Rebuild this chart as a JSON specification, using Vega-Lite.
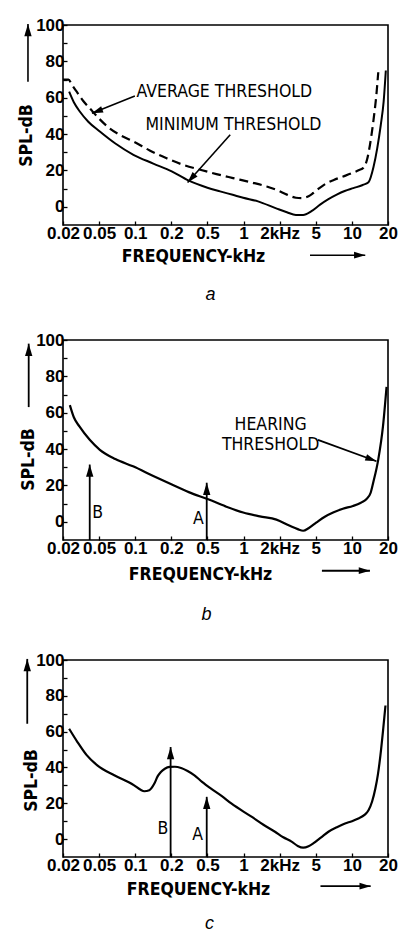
{
  "$schema": "https://vega.github.io/schema/vega-lite/v6.json",
  "background": "white",
  "padding": {"left": 16, "top": 15, "right": 2, "bottom": 2},
  "spacing": 25,
  "config": {
    "view": {"stroke": "black", "strokeWidth": 1.6},
    "axis": {
      "grid": false, "domain": false,
      "tickColor": "black", "tickSize": -4, "tickWidth": 1.3,
      "labelFont": "Liberation Sans", "labelFontWeight": "bold", "labelFontSize": 17, "labelColor": "black",
      "titleFont": "DejaVu Sans Condensed", "titleFontWeight": "bold", "titleFontSize": 17.5, "titleColor": "black"
    },
    "title": {"orient": "bottom", "font": "Liberation Sans", "fontStyle": "italic", "fontWeight": "normal", "fontSize": 18, "anchor": "middle", "color": "black", "offset": 20}
  },
  "datasets": {
    "curves": [
      {"panel": "a", "series": "average", "fpos": 0.0, "spl": 70},
      {"panel": "a", "series": "average", "fpos": 0.15, "spl": 70},
      {"panel": "a", "series": "average", "fpos": 0.25, "spl": 67},
      {"panel": "a", "series": "average", "fpos": 0.38, "spl": 63.3},
      {"panel": "a", "series": "average", "fpos": 0.55, "spl": 58.5},
      {"panel": "a", "series": "average", "fpos": 0.75, "spl": 54},
      {"panel": "a", "series": "average", "fpos": 1.0, "spl": 48.5},
      {"panel": "a", "series": "average", "fpos": 1.3, "spl": 43},
      {"panel": "a", "series": "average", "fpos": 1.6, "spl": 39.3},
      {"panel": "a", "series": "average", "fpos": 1.95, "spl": 35.9},
      {"panel": "a", "series": "average", "fpos": 2.4, "spl": 31},
      {"panel": "a", "series": "average", "fpos": 2.87, "spl": 26.7},
      {"panel": "a", "series": "average", "fpos": 3.3, "spl": 23.3},
      {"panel": "a", "series": "average", "fpos": 3.8, "spl": 20.4},
      {"panel": "a", "series": "average", "fpos": 4.25, "spl": 18},
      {"panel": "a", "series": "average", "fpos": 4.71, "spl": 15.8},
      {"panel": "a", "series": "average", "fpos": 5.2, "spl": 13.5},
      {"panel": "a", "series": "average", "fpos": 5.64, "spl": 11.2},
      {"panel": "a", "series": "average", "fpos": 5.95, "spl": 9},
      {"panel": "a", "series": "average", "fpos": 6.2, "spl": 6.7},
      {"panel": "a", "series": "average", "fpos": 6.45, "spl": 5},
      {"panel": "a", "series": "average", "fpos": 6.62, "spl": 4.8},
      {"panel": "a", "series": "average", "fpos": 6.8, "spl": 5.8},
      {"panel": "a", "series": "average", "fpos": 6.93, "spl": 7.6},
      {"panel": "a", "series": "average", "fpos": 7.1, "spl": 10.3},
      {"panel": "a", "series": "average", "fpos": 7.3, "spl": 13},
      {"panel": "a", "series": "average", "fpos": 7.5, "spl": 14.8},
      {"panel": "a", "series": "average", "fpos": 7.76, "spl": 16.7},
      {"panel": "a", "series": "average", "fpos": 8.0, "spl": 18.5},
      {"panel": "a", "series": "average", "fpos": 8.2, "spl": 20.2},
      {"panel": "a", "series": "average", "fpos": 8.32, "spl": 21.5},
      {"panel": "a", "series": "average", "fpos": 8.42, "spl": 26},
      {"panel": "a", "series": "average", "fpos": 8.5, "spl": 34},
      {"panel": "a", "series": "average", "fpos": 8.6, "spl": 48},
      {"panel": "a", "series": "average", "fpos": 8.68, "spl": 62},
      {"panel": "a", "series": "average", "fpos": 8.73, "spl": 74},
      {"panel": "a", "series": "minimum", "fpos": 0.17, "spl": 63.3},
      {"panel": "a", "series": "minimum", "fpos": 0.3, "spl": 57.5},
      {"panel": "a", "series": "minimum", "fpos": 0.47, "spl": 52.3},
      {"panel": "a", "series": "minimum", "fpos": 0.7, "spl": 46.8},
      {"panel": "a", "series": "minimum", "fpos": 1.02, "spl": 41.4},
      {"panel": "a", "series": "minimum", "fpos": 1.45, "spl": 34.8},
      {"panel": "a", "series": "minimum", "fpos": 1.95, "spl": 28.6},
      {"panel": "a", "series": "minimum", "fpos": 2.5, "spl": 23.8},
      {"panel": "a", "series": "minimum", "fpos": 3.01, "spl": 19.5},
      {"panel": "a", "series": "minimum", "fpos": 3.47, "spl": 14.5},
      {"panel": "a", "series": "minimum", "fpos": 4.0, "spl": 10.5},
      {"panel": "a", "series": "minimum", "fpos": 4.35, "spl": 8.5},
      {"panel": "a", "series": "minimum", "fpos": 4.7, "spl": 6.6},
      {"panel": "a", "series": "minimum", "fpos": 4.99, "spl": 5},
      {"panel": "a", "series": "minimum", "fpos": 5.4, "spl": 3},
      {"panel": "a", "series": "minimum", "fpos": 5.92, "spl": -1},
      {"panel": "a", "series": "minimum", "fpos": 6.2, "spl": -3},
      {"panel": "a", "series": "minimum", "fpos": 6.45, "spl": -4.5},
      {"panel": "a", "series": "minimum", "fpos": 6.65, "spl": -4.5},
      {"panel": "a", "series": "minimum", "fpos": 6.88, "spl": -2.4},
      {"panel": "a", "series": "minimum", "fpos": 7.12, "spl": 1.2},
      {"panel": "a", "series": "minimum", "fpos": 7.35, "spl": 4.2},
      {"panel": "a", "series": "minimum", "fpos": 7.58, "spl": 6.7},
      {"panel": "a", "series": "minimum", "fpos": 7.8, "spl": 8.7},
      {"panel": "a", "series": "minimum", "fpos": 8.04, "spl": 10.3},
      {"panel": "a", "series": "minimum", "fpos": 8.3, "spl": 12},
      {"panel": "a", "series": "minimum", "fpos": 8.46, "spl": 13.5},
      {"panel": "a", "series": "minimum", "fpos": 8.6, "spl": 22},
      {"panel": "a", "series": "minimum", "fpos": 8.7, "spl": 32},
      {"panel": "a", "series": "minimum", "fpos": 8.8, "spl": 45},
      {"panel": "a", "series": "minimum", "fpos": 8.88, "spl": 58},
      {"panel": "a", "series": "minimum", "fpos": 8.94, "spl": 75},
      {"panel": "b", "series": "hearing", "fpos": 0.19, "spl": 64.2},
      {"panel": "b", "series": "hearing", "fpos": 0.3, "spl": 57.5},
      {"panel": "b", "series": "hearing", "fpos": 0.46, "spl": 52.3},
      {"panel": "b", "series": "hearing", "fpos": 0.74, "spl": 45.1},
      {"panel": "b", "series": "hearing", "fpos": 1.02, "spl": 39.6},
      {"panel": "b", "series": "hearing", "fpos": 1.45, "spl": 34.5},
      {"panel": "b", "series": "hearing", "fpos": 1.94, "spl": 30.5},
      {"panel": "b", "series": "hearing", "fpos": 2.5, "spl": 25.2},
      {"panel": "b", "series": "hearing", "fpos": 3.0, "spl": 20.6},
      {"panel": "b", "series": "hearing", "fpos": 3.5, "spl": 16.2},
      {"panel": "b", "series": "hearing", "fpos": 4.02, "spl": 12.4},
      {"panel": "b", "series": "hearing", "fpos": 4.5, "spl": 8.5},
      {"panel": "b", "series": "hearing", "fpos": 4.99, "spl": 5.1},
      {"panel": "b", "series": "hearing", "fpos": 5.45, "spl": 3},
      {"panel": "b", "series": "hearing", "fpos": 5.91, "spl": 1.2},
      {"panel": "b", "series": "hearing", "fpos": 6.28, "spl": -2.2},
      {"panel": "b", "series": "hearing", "fpos": 6.5, "spl": -4},
      {"panel": "b", "series": "hearing", "fpos": 6.65, "spl": -4.9},
      {"panel": "b", "series": "hearing", "fpos": 6.8, "spl": -3.5},
      {"panel": "b", "series": "hearing", "fpos": 7.02, "spl": -0.3},
      {"panel": "b", "series": "hearing", "fpos": 7.25, "spl": 2.8},
      {"panel": "b", "series": "hearing", "fpos": 7.48, "spl": 5.1},
      {"panel": "b", "series": "hearing", "fpos": 7.75, "spl": 7.2},
      {"panel": "b", "series": "hearing", "fpos": 8.03, "spl": 8.7},
      {"panel": "b", "series": "hearing", "fpos": 8.25, "spl": 10.5},
      {"panel": "b", "series": "hearing", "fpos": 8.4, "spl": 12.4},
      {"panel": "b", "series": "hearing", "fpos": 8.52, "spl": 16},
      {"panel": "b", "series": "hearing", "fpos": 8.59, "spl": 21.5},
      {"panel": "b", "series": "hearing", "fpos": 8.73, "spl": 34.2},
      {"panel": "b", "series": "hearing", "fpos": 8.86, "spl": 52.3},
      {"panel": "b", "series": "hearing", "fpos": 8.96, "spl": 74.2},
      {"panel": "c", "series": "masked", "fpos": 0.17, "spl": 61.6},
      {"panel": "c", "series": "masked", "fpos": 0.4, "spl": 54.2},
      {"panel": "c", "series": "masked", "fpos": 0.65, "spl": 47},
      {"panel": "c", "series": "masked", "fpos": 0.95, "spl": 41.2},
      {"panel": "c", "series": "masked", "fpos": 1.42, "spl": 35.6},
      {"panel": "c", "series": "masked", "fpos": 1.97, "spl": 30},
      {"panel": "c", "series": "masked", "fpos": 2.15, "spl": 27.5},
      {"panel": "c", "series": "masked", "fpos": 2.25, "spl": 26.7},
      {"panel": "c", "series": "masked", "fpos": 2.39, "spl": 27.3},
      {"panel": "c", "series": "masked", "fpos": 2.53, "spl": 31},
      {"panel": "c", "series": "masked", "fpos": 2.62, "spl": 35},
      {"panel": "c", "series": "masked", "fpos": 2.71, "spl": 37.5},
      {"panel": "c", "series": "masked", "fpos": 2.82, "spl": 39.3},
      {"panel": "c", "series": "masked", "fpos": 2.95, "spl": 40.3},
      {"panel": "c", "series": "masked", "fpos": 3.1, "spl": 40.4},
      {"panel": "c", "series": "masked", "fpos": 3.27, "spl": 39.7},
      {"panel": "c", "series": "masked", "fpos": 3.45, "spl": 38},
      {"panel": "c", "series": "masked", "fpos": 3.64, "spl": 35.6},
      {"panel": "c", "series": "masked", "fpos": 3.85, "spl": 32},
      {"panel": "c", "series": "masked", "fpos": 4.1, "spl": 28.2},
      {"panel": "c", "series": "masked", "fpos": 4.4, "spl": 24},
      {"panel": "c", "series": "masked", "fpos": 4.66, "spl": 19.9},
      {"panel": "c", "series": "masked", "fpos": 5.22, "spl": 12.5},
      {"panel": "c", "series": "masked", "fpos": 5.55, "spl": 8},
      {"panel": "c", "series": "masked", "fpos": 5.87, "spl": 4.1},
      {"panel": "c", "series": "masked", "fpos": 6.1, "spl": 1},
      {"panel": "c", "series": "masked", "fpos": 6.33, "spl": -1.4},
      {"panel": "c", "series": "masked", "fpos": 6.5, "spl": -3.8},
      {"panel": "c", "series": "masked", "fpos": 6.65, "spl": -4.8},
      {"panel": "c", "series": "masked", "fpos": 6.8, "spl": -4},
      {"panel": "c", "series": "masked", "fpos": 6.93, "spl": -2.4},
      {"panel": "c", "series": "masked", "fpos": 7.15, "spl": 1},
      {"panel": "c", "series": "masked", "fpos": 7.35, "spl": 4.1},
      {"panel": "c", "series": "masked", "fpos": 7.6, "spl": 6.8},
      {"panel": "c", "series": "masked", "fpos": 7.81, "spl": 8.7},
      {"panel": "c", "series": "masked", "fpos": 8.0, "spl": 10},
      {"panel": "c", "series": "masked", "fpos": 8.18, "spl": 11.5},
      {"panel": "c", "series": "masked", "fpos": 8.35, "spl": 13.5},
      {"panel": "c", "series": "masked", "fpos": 8.46, "spl": 16.1},
      {"panel": "c", "series": "masked", "fpos": 8.56, "spl": 21},
      {"panel": "c", "series": "masked", "fpos": 8.65, "spl": 28.2},
      {"panel": "c", "series": "masked", "fpos": 8.72, "spl": 36},
      {"panel": "c", "series": "masked", "fpos": 8.79, "spl": 46.7},
      {"panel": "c", "series": "masked", "fpos": 8.86, "spl": 60},
      {"panel": "c", "series": "masked", "fpos": 8.93, "spl": 74.6}
    ],
    "notes": [
      {"panel": "a", "label": "AVERAGE THRESHOLD", "fpos": 4.47, "spl": 63.1},
      {"panel": "a", "label": "MINIMUM THRESHOLD", "fpos": 4.72, "spl": 44.8},
      {"panel": "b", "label": "HEARING", "fpos": 5.75, "spl": 53.3},
      {"panel": "b", "label": "THRESHOLD", "fpos": 5.75, "spl": 42.4},
      {"panel": "b", "label": "B", "fpos": 0.96, "spl": 4.8},
      {"panel": "b", "label": "A", "fpos": 3.75, "spl": 1.5},
      {"panel": "c", "label": "B", "fpos": 2.77, "spl": 5.8},
      {"panel": "c", "label": "A", "fpos": 3.73, "spl": 2.2}
    ],
    "arrows": [
      {"panel": "a", "name": "average", "fpos": 0.8, "spl": 51.4, "fpos2": 1.99, "spl2": 60.9},
      {"panel": "a", "name": "minimum", "fpos": 3.45, "spl": 13.4, "fpos2": 4.63, "spl2": 39.6},
      {"panel": "a", "name": "yaxis", "fpos": -0.97, "spl": 100.5, "fpos2": -0.97, "spl2": 68.8},
      {"panel": "a", "name": "xaxis", "fpos": 8.37, "spl": -26.6, "fpos2": 6.84, "spl2": -26.6},
      {"panel": "b", "name": "hearing", "fpos": 8.68, "spl": 33.3, "fpos2": 7.06, "spl2": 45.1},
      {"panel": "b", "name": "B", "fpos": 0.74, "spl": 31.5, "fpos2": 0.74, "spl2": -10},
      {"panel": "b", "name": "A", "fpos": 3.98, "spl": 21.5, "fpos2": 3.98, "spl2": -10},
      {"panel": "b", "name": "yaxis", "fpos": -0.95, "spl": 98, "fpos2": -0.95, "spl2": 63.1},
      {"panel": "b", "name": "xaxis", "fpos": 8.5, "spl": -26.9, "fpos2": 7.17, "spl2": -26.9},
      {"panel": "c", "name": "B", "fpos": 2.98, "spl": 51.4, "fpos2": 2.98, "spl2": -10},
      {"panel": "c", "name": "A", "fpos": 3.98, "spl": 23.6, "fpos2": 3.98, "spl2": -10},
      {"panel": "c", "name": "yaxis", "fpos": -0.99, "spl": 100.6, "fpos2": -0.99, "spl2": 64.4},
      {"panel": "c", "name": "xaxis", "fpos": 8.52, "spl": -26.3, "fpos2": 7.13, "spl2": -26.3}
    ]
  },
  "vconcat": [
    {
      "width": 325, "height": 200,
      "title": {"text": "a", "offset": 21, "dx": -15},
      "encoding": {
        "x": {"field": "fpos", "type": "quantitative", "scale": {"domain": [0, 9], "nice": false, "zero": false},
          "axis": {"title": "FREQUENCY-kHz", "values": [0, 1, 2, 3, 4, 5, 6, 7, 8, 9], "labelExpr": "['0.02','0.05','0.1','0.2','0.5','1','2kHz','5','10','20'][datum.value]", "labelFlush": false, "labelOverlap": false, "labelPadding": 4, "titleX": 130, "titleY": 36, "titleAlign": "center", "titleBaseline": "alphabetic"}},
        "y": {"field": "spl", "type": "quantitative", "scale": {"domain": [-10, 100], "nice": false, "zero": false},
          "axis": {"title": "SPL-dB", "values": [0, 10, 20, 30, 40, 50, 60, 70, 80, 90, 100], "labelExpr": "datum.value % 20 == 0 ? datum.label : ''", "labelPadding": 3, "titleX": -32, "titleY": 110, "titleAlign": "center", "titleBaseline": "alphabetic"}}
      },
      "layer": [
        {"data": {"name": "curves"}, "transform": [{"filter": "datum.panel == 'a' && datum.series == 'minimum'"}],
          "mark": {"type": "line", "color": "black", "strokeWidth": 2, "interpolate": "monotone", "clip": false}},
        {"data": {"name": "curves"}, "transform": [{"filter": "datum.panel == 'a' && datum.series == 'average'"}],
          "mark": {"type": "line", "color": "black", "strokeWidth": 2.2, "strokeDash": [9, 5], "interpolate": "monotone", "clip": false}},
        {"data": {"name": "notes"}, "transform": [{"filter": "datum.panel == 'a'"}],
          "mark": {"type": "text", "font": "DejaVu Sans Condensed", "fontSize": 17.5, "align": "center", "baseline": "middle", "color": "black", "clip": false},
          "encoding": {"text": {"field": "label"}}},
        {"data": {"name": "arrows"}, "transform": [{"filter": "datum.panel == 'a'"}],
          "mark": {"type": "rule", "color": "black", "strokeWidth": 1.6, "clip": false},
          "encoding": {"x2": {"field": "fpos2"}, "y2": {"field": "spl2"}}},
        {"data": {"name": "arrows"}, "transform": [{"filter": "datum.panel == 'a' && datum.name == 'average'"}],
          "mark": {"type": "point", "shape": "M0,0L0.3,1L-0.3,1Z", "size": 500, "filled": true, "opacity": 1, "color": "black", "strokeWidth": 0, "angle": 249, "clip": false}},
        {"data": {"name": "arrows"}, "transform": [{"filter": "datum.panel == 'a' && datum.name == 'minimum'"}],
          "mark": {"type": "point", "shape": "M0,0L0.3,1L-0.3,1Z", "size": 500, "filled": true, "opacity": 1, "color": "black", "strokeWidth": 0, "angle": 222, "clip": false}},
        {"data": {"name": "arrows"}, "transform": [{"filter": "datum.panel == 'a' && datum.name == 'yaxis'"}],
          "mark": {"type": "point", "shape": "M0,0L0.3,1L-0.3,1Z", "size": 600, "filled": true, "opacity": 1, "color": "black", "strokeWidth": 0, "angle": 0, "clip": false}},
        {"data": {"name": "arrows"}, "transform": [{"filter": "datum.panel == 'a' && datum.name == 'xaxis'"}],
          "mark": {"type": "point", "shape": "M0,0L0.3,1L-0.3,1Z", "size": 500, "filled": true, "opacity": 1, "color": "black", "strokeWidth": 0, "angle": 90, "clip": false}}
      ]
    },
    {
      "width": 325, "height": 200,
      "title": {"text": "b", "offset": 23.5, "dx": -19},
      "encoding": {
        "x": {"field": "fpos", "type": "quantitative", "scale": {"domain": [0, 9], "nice": false, "zero": false},
          "axis": {"title": "FREQUENCY-kHz", "values": [0, 1, 2, 3, 4, 5, 6, 7, 8, 9], "labelExpr": "['0.02','0.05','0.1','0.2','0.5','1','2kHz','5','10','20'][datum.value]", "labelFlush": false, "labelOverlap": false, "labelPadding": 4, "titleX": 137, "titleY": 39, "titleAlign": "center", "titleBaseline": "alphabetic"}},
        "y": {"field": "spl", "type": "quantitative", "scale": {"domain": [-10, 100], "nice": false, "zero": false},
          "axis": {"title": "SPL-dB", "values": [0, 10, 20, 30, 40, 50, 60, 70, 80, 90, 100], "labelExpr": "datum.value % 20 == 0 ? datum.label : ''", "labelPadding": 3, "titleX": -30, "titleY": 119, "titleAlign": "center", "titleBaseline": "alphabetic"}}
      },
      "layer": [
        {"data": {"name": "curves"}, "transform": [{"filter": "datum.panel == 'b'"}],
          "mark": {"type": "line", "color": "black", "strokeWidth": 2.2, "interpolate": "monotone", "clip": false}},
        {"data": {"name": "notes"}, "transform": [{"filter": "datum.panel == 'b'"}],
          "mark": {"type": "text", "font": "DejaVu Sans Condensed", "fontSize": 17.5, "align": "center", "baseline": "middle", "color": "black", "clip": false},
          "encoding": {"text": {"field": "label"}}},
        {"data": {"name": "arrows"}, "transform": [{"filter": "datum.panel == 'b'"}],
          "mark": {"type": "rule", "color": "black", "strokeWidth": 1.8, "clip": false},
          "encoding": {"x2": {"field": "fpos2"}, "y2": {"field": "spl2"}}},
        {"data": {"name": "arrows"}, "transform": [{"filter": "datum.panel == 'b' && datum.name == 'hearing'"}],
          "mark": {"type": "point", "shape": "M0,0L0.3,1L-0.3,1Z", "size": 500, "filled": true, "opacity": 1, "color": "black", "strokeWidth": 0, "angle": 110, "clip": false}},
        {"data": {"name": "arrows"}, "transform": [{"filter": "datum.panel == 'b' && (datum.name == 'A' || datum.name == 'B' || datum.name == 'yaxis')"}],
          "mark": {"type": "point", "shape": "M0,0L0.3,1L-0.3,1Z", "size": 600, "filled": true, "opacity": 1, "color": "black", "strokeWidth": 0, "angle": 0, "clip": false}},
        {"data": {"name": "arrows"}, "transform": [{"filter": "datum.panel == 'b' && datum.name == 'xaxis'"}],
          "mark": {"type": "point", "shape": "M0,0L0.3,1L-0.3,1Z", "size": 500, "filled": true, "opacity": 1, "color": "black", "strokeWidth": 0, "angle": 90, "clip": false}}
      ]
    },
    {
      "width": 325, "height": 197,
      "title": {"text": "c", "offset": 17, "dx": -16},
      "encoding": {
        "x": {"field": "fpos", "type": "quantitative", "scale": {"domain": [0, 9], "nice": false, "zero": false},
          "axis": {"title": "FREQUENCY-kHz", "values": [0, 1, 2, 3, 4, 5, 6, 7, 8, 9], "labelExpr": "['0.02','0.05','0.1','0.2','0.5','1','2kHz','5','10','20'][datum.value]", "labelFlush": false, "labelOverlap": false, "labelPadding": 4, "titleX": 135, "titleY": 37, "titleAlign": "center", "titleBaseline": "alphabetic"}},
        "y": {"field": "spl", "type": "quantitative", "scale": {"domain": [-10, 100], "nice": false, "zero": false},
          "axis": {"title": "SPL-dB", "values": [0, 10, 20, 30, 40, 50, 60, 70, 80, 90, 100], "labelExpr": "datum.value % 20 == 0 ? datum.label : ''", "labelPadding": 3, "titleX": -27, "titleY": 120, "titleAlign": "center", "titleBaseline": "alphabetic"}}
      },
      "layer": [
        {"data": {"name": "curves"}, "transform": [{"filter": "datum.panel == 'c'"}],
          "mark": {"type": "line", "color": "black", "strokeWidth": 2.2, "interpolate": "monotone", "clip": false}},
        {"data": {"name": "notes"}, "transform": [{"filter": "datum.panel == 'c'"}],
          "mark": {"type": "text", "font": "DejaVu Sans Condensed", "fontSize": 17.5, "align": "center", "baseline": "middle", "color": "black", "clip": false},
          "encoding": {"text": {"field": "label"}}},
        {"data": {"name": "arrows"}, "transform": [{"filter": "datum.panel == 'c'"}],
          "mark": {"type": "rule", "color": "black", "strokeWidth": 1.8, "clip": false},
          "encoding": {"x2": {"field": "fpos2"}, "y2": {"field": "spl2"}}},
        {"data": {"name": "arrows"}, "transform": [{"filter": "datum.panel == 'c' && (datum.name == 'A' || datum.name == 'B' || datum.name == 'yaxis')"}],
          "mark": {"type": "point", "shape": "M0,0L0.3,1L-0.3,1Z", "size": 600, "filled": true, "opacity": 1, "color": "black", "strokeWidth": 0, "angle": 0, "clip": false}},
        {"data": {"name": "arrows"}, "transform": [{"filter": "datum.panel == 'c' && datum.name == 'xaxis'"}],
          "mark": {"type": "point", "shape": "M0,0L0.3,1L-0.3,1Z", "size": 500, "filled": true, "opacity": 1, "color": "black", "strokeWidth": 0, "angle": 90, "clip": false}}
      ]
    }
  ]
}
